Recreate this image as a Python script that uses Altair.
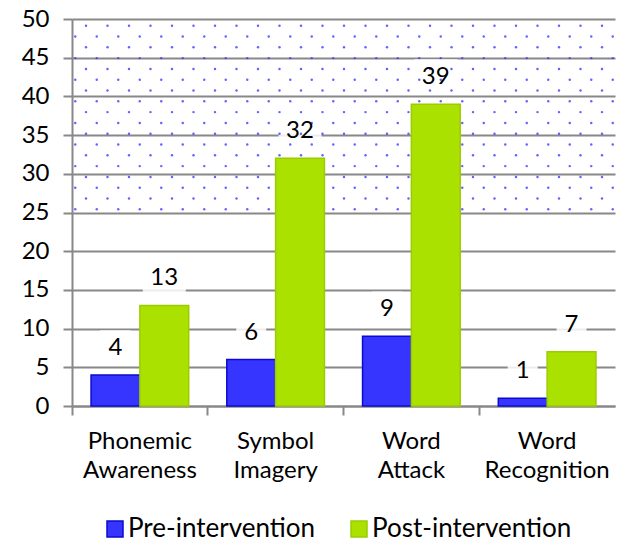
import altair as alt
import pandas as pd
import numpy as np

categories = ["Phonemic Awareness", "Symbol Imagery", "Word Attack", "Word Recognition"]
series = ["Pre-intervention", "Post-intervention"]
pre_values = [4, 6, 9, 1]
post_values = [13, 32, 39, 7]
y_ticks = [0, 5, 10, 15, 20, 25, 30, 35, 40, 45, 50]

fill_colors = ["#3535ff", "#abe100"]
stroke_colors = ["#0a0ad0", "#9ccc00"]
FONT = "Lato"

rows = []
for c, a, b in zip(categories, pre_values, post_values):
    rows.append({"category": c, "series": series[0], "value": a})
    rows.append({"category": c, "series": series[1], "value": b})
df = pd.DataFrame(rows)

PLOT_W, PLOT_H = 543, 387

# decorative dotted texture of the upper band (25..50)
dots = []
row_px = 6.7
i = 0
while row_px < PLOT_H / 2 - 1:
    off = 14.0 if i % 2 == 0 else 3.25
    xs = np.arange(off, PLOT_W - 2, 21.5)
    yv = 50 - row_px / PLOT_H * 50
    for xv in xs:
        dots.append({"px": float(xv), "yv": float(yv)})
    row_px += 10.8
    i += 1
dots_df = pd.DataFrame(dots)

yscale = alt.Scale(domain=[0, 50], nice=False, zero=True)
yaxis = alt.Axis(
    title=None,
    values=y_ticks,
    labelFontSize=24,
    labelFont=FONT,
    labelColor="black",
    labelPadding=14,
    tickSize=9,
    grid=True,
)

xscale = alt.Scale(domain=categories, paddingInner=0, paddingOuter=0)
xaxis = alt.Axis(
    title=None,
    orient="bottom",
    labelAngle=0,
    labelExpr="split(datum.label, ' ')",
    labelFontSize=24,
    labelFont=FONT,
    labelColor="black",
    labelLineHeight=29,
    labelPadding=14,
    bandPosition=0,
    tickSize=9,
    grid=False,
)
xoff = alt.XOffset("series:N", sort=series, scale=alt.Scale(domain=series, paddingOuter=0.39, paddingInner=0))

base = alt.Chart(df)

boxes = base.mark_bar(color="white", opacity=0.85).transform_calculate(
    lo="datum.value + 1.2",
    hi="datum.value + 5.8",
    w="length(toString(datum.value)) * 13 + 17",
).encode(
    x=alt.X("category:N", sort=categories, scale=xscale, axis=None),
    xOffset=xoff,
    y=alt.Y("lo:Q", scale=yscale, axis=yaxis),
    y2="hi:Q",
    size=alt.Size("w:Q", scale=None, legend=None),
)

dots_layer = alt.Chart(dots_df).mark_circle(size=6, color="#3c3cff", opacity=0.8).encode(
    x=alt.X("px:Q", scale=alt.Scale(domain=[0, PLOT_W], nice=False, zero=True), axis=None),
    y=alt.Y("yv:Q", scale=yscale, axis=yaxis),
)

bars = base.mark_bar(strokeWidth=1.5).encode(
    x=alt.X("category:N", sort=categories, scale=xscale, axis=xaxis),
    xOffset=xoff,
    y=alt.Y("value:Q", scale=yscale, axis=yaxis),
    color=alt.Color(
        "series:N",
        sort=series,
        scale=alt.Scale(domain=series, range=fill_colors),
        legend=alt.Legend(
            title=None,
            orient="none",
            legendX=30,
            legendY=497,
            direction="horizontal",
            symbolType="square",
            symbolSize=256,
            labelFontSize=26,
            labelFont=FONT,
            labelColor="black",
            labelOffset=0,
            labelLimit=0,
            columnPadding=30,
        ),
    ),
    stroke=alt.Stroke(
        "series:N",
        sort=series,
        scale=alt.Scale(domain=series, range=stroke_colors),
        legend=None,
    ),
)

labels = base.mark_text(dy=-27, fontSize=24, font=FONT, color="black", baseline="middle").encode(
    x=alt.X("category:N", sort=categories, scale=xscale, axis=None),
    xOffset=xoff,
    y=alt.Y("value:Q", scale=yscale, axis=yaxis),
    text=alt.Text("value:Q"),
)

chart = alt.layer(boxes, dots_layer, bars, labels).resolve_scale(x="independent").properties(
    width=PLOT_W,
    height=PLOT_H,
    autosize="none",
    padding={"left": 64, "top": 11, "right": 5, "bottom": 136},
).configure_view(stroke=None).configure_axis(
    gridColor="#888888",
    gridWidth=2,
    domainColor="#888888",
    domainWidth=2,
    tickColor="#888888",
    tickWidth=2,
)

chart.save("out.html", embed_options={"renderer": "svg", "actions": False})
